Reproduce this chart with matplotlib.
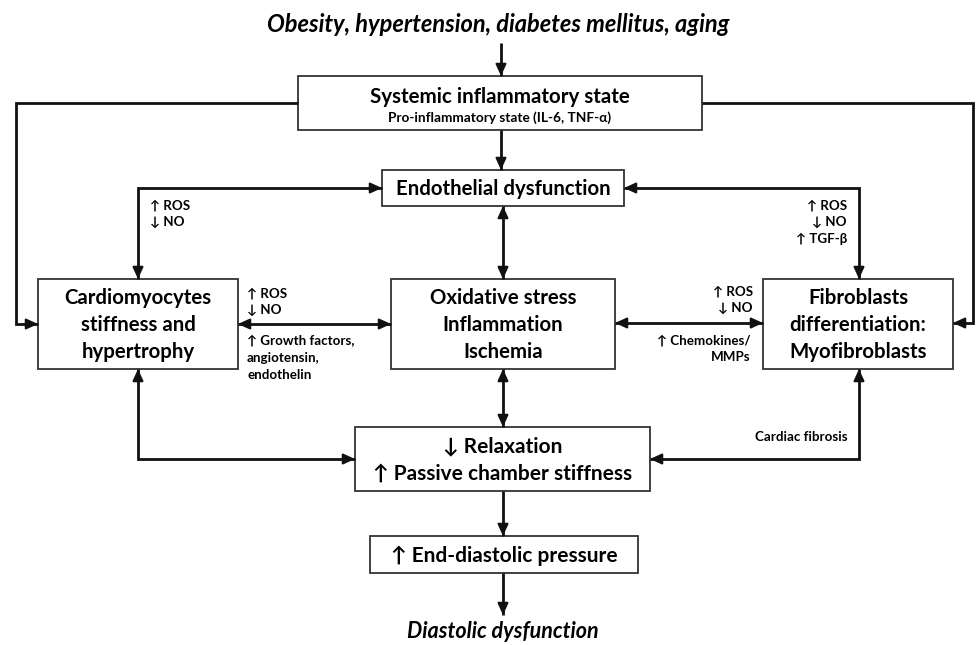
import matplotlib
matplotlib.use("Agg")
import matplotlib.pyplot as plt
from matplotlib.patches import Rectangle
import numpy as np

plt.rcParams['font.family'] = ['Lato', 'DejaVu Sans']

# text content
top_cause = "Obesity, hypertension, diabetes mellitus, aging"
bottom_outcome = "Diastolic dysfunction"
box_names = ["systemic", "endo", "cardio", "oxid", "fibro", "relax", "edp"]
box_titles = [
    "Systemic inflammatory state",
    "Endothelial dysfunction",
    "Cardiomyocytes\nstiffness and\nhypertrophy",
    "Oxidative stress\nInflammation\nIschemia",
    "Fibroblasts\ndifferentiation:\nMyofibroblasts",
    "\u2193 Relaxation\n\u2191 Passive chamber stiffness",
    "\u2191 End-diastolic pressure",
]
systemic_sub = "Pro-inflammatory state (IL-6, TNF-\u03b1)"
lbl_endo_cardio = "\u2191 ROS\n\u2193 NO"
lbl_endo_fibro = "\u2191 ROS\n\u2193 NO\n\u2191 TGF-\u03b2"
lbl_cardio_oxid_top = "\u2191 ROS\n\u2193 NO"
lbl_cardio_oxid_bot = "\u2191 Growth factors,\nangiotensin,\nendothelin"
lbl_oxid_fibro_top = "\u2191 ROS\n\u2193 NO"
lbl_oxid_fibro_bot = "\u2191 Chemokines/\nMMPs"
lbl_fibrosis = "Cardiac fibrosis"

# layout (pixel space: x0, y0, x1, y1)
box_xy = {
    "systemic": (298, 76, 702, 130),
    "endo": (382, 170, 624, 206),
    "cardio": (38, 279, 238, 369),
    "oxid": (391, 279, 615, 369),
    "fibro": (763, 279, 953, 369),
    "relax": (355, 427, 650, 491),
    "edp": (370, 536, 638, 573),
}
title_size = {"systemic": 14.8, "endo": 14.7, "cardio": 14.7, "oxid": 14.7,
              "fibro": 14.7, "relax": 15, "edp": 15}

W, H = 976, 645
fig = plt.figure(figsize=(W / 100, H / 100), dpi=100)
ax = fig.add_axes([0, 0, 1, 1])
ax.set_xlim(0, W)
ax.set_ylim(H, 0)
ax.axis('off')

lc = '#111111'
lw = 2.0


def head(p0, p1):
    d = np.array(p1, float) - np.array(p0, float)
    d /= np.linalg.norm(d)
    start = np.array(p1) - d * 12
    ax.annotate('', xy=p1, xytext=start,
                arrowprops=dict(arrowstyle='-|>,head_length=0.7,head_width=0.32',
                                color=lc, lw=1.5, shrinkA=0, shrinkB=0))


def link(pts, start=False, end=True):
    xs, ys = zip(*pts)
    ax.plot(xs, ys, color=lc, lw=lw, solid_capstyle='butt', solid_joinstyle='miter')
    if end:
        head(pts[-2], pts[-1])
    if start:
        head(pts[1], pts[0])


for name, title in zip(box_names, box_titles):
    x0, y0, x1, y1 = box_xy[name]
    ax.add_patch(Rectangle((x0, y0), x1 - x0, y1 - y0, fill=False,
                           ec='#333333', lw=1.3))
    cx, cy = (x0 + x1) / 2, (y0 + y1) / 2
    if name == "systemic":
        ax.text(cx, 97, title, ha='center', va='center', fontsize=title_size[name],
                fontweight='bold')
        ax.text(cx, 118, systemic_sub, ha='center', va='center', fontsize=9.8,
                fontweight='bold')
    else:
        ax.text(cx, cy + 1, title, ha='center', va='center', fontsize=title_size[name],
                fontweight='bold', linespacing=1.42)

ax.text(498, 24, top_cause, ha='center', va='center', fontsize=17,
        fontweight='bold', style='italic')
ax.text(503, 631, bottom_outcome, ha='center', va='center', fontsize=15.5,
        fontweight='bold', style='italic')

# connectors
link([(501, 43), (501, 76)])
link([(501, 130), (501, 170)])
link([(298, 103), (16, 103), (16, 324), (38, 324)])
link([(702, 103), (973, 103), (973, 323), (953, 323)])
link([(138, 279), (138, 188), (382, 188)], start=True)
link([(859, 279), (859, 188), (624, 188)], start=True)
link([(503, 206), (503, 279)], start=True)
link([(238, 324), (391, 324)], start=True)
link([(615, 323), (763, 323)], start=True)
link([(503, 369), (503, 427)], start=True)
link([(138, 369), (138, 459), (355, 459)], start=True)
link([(859, 369), (859, 459), (650, 459)], start=True)
link([(503, 491), (503, 536)])
link([(503, 573), (503, 615)])

small = dict(fontsize=9.6, fontweight='bold', linespacing=1.45)
ax.text(150, 214, lbl_endo_cardio, ha='left', va='center', **small)
ax.text(847, 222, lbl_endo_fibro, ha='right', va='center', **small)
ax.text(247, 302, lbl_cardio_oxid_top, ha='left', va='center', **small)
ax.text(247, 358, lbl_cardio_oxid_bot, ha='left', va='center', **small)
ax.text(753, 300, lbl_oxid_fibro_top, ha='right', va='center', **small)
ax.text(751, 349, lbl_oxid_fibro_bot, ha='right', va='center', **small)
ax.text(848, 437, lbl_fibrosis, ha='right', va='center', **small)

fig.savefig("out.png", dpi=100)
